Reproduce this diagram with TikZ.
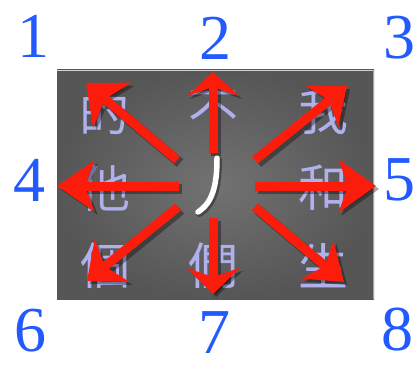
\documentclass[tikz,border=0pt]{standalone}
\usepackage{fontspec}
\setmainfont{Liberation Serif}
\newfontfamily\cjk{Noto Sans CJK TC}
\usetikzlibrary{arrows.meta}
\definecolor{numblue}{RGB}{35,90,255}
\definecolor{lav}{RGB}{176,176,236}
\definecolor{arrred}{RGB}{252,28,12}
\definecolor{bginner}{RGB}{114,114,114}
\definecolor{bgouter}{RGB}{86,86,86}
\begin{document}
\begin{tikzpicture}[x=1pt,y=-1pt,
  num/.style={text=numblue,font=\fontsize{64}{64}\selectfont,inner sep=0pt},
  hanzi/.style={text=lav,font=\cjk\fontsize{50}{50}\selectfont,inner sep=0pt},
  redarrow/.style 2 args={draw=arrred,line width=9pt,
    -{Stealth[length=#1,width=#2,inset=9pt]},
    preaction={draw=black,opacity=0.35,line width=10pt,
      -{Stealth[length=#1,width=#2,inset=9pt]},
      transform canvas={shift={(3pt,-3pt)}}}},
]
\useasboundingbox (0,0) rectangle (414,366);
% panel
\shade[inner color=bginner,outer color=bgouter] (57,70) rectangle (374,299);
\draw[gray!35,line width=1pt] (57,70.5) -- (374,70.5);
\draw[gray!70,line width=0.8pt] (373.6,70) -- (373.6,299);
% characters
\node[hanzi] (c1) at (104,112) {的};
\node[hanzi] (c2) at (213,112) {不};
\node[hanzi] (c3) at (323,112) {我};
\node[hanzi] (c4) at (105,188) {他};
\node[hanzi] (c5) at (323,188) {和};
\node[hanzi] (c6) at (105,266) {個};
\node[hanzi] (c7) at (213,266) {們};
\node[hanzi] (c8) at (323,266) {生};
% central stroke
\coordinate (pt) at (217,158);
\coordinate (pb) at (198,212);
\draw[black,line width=7pt,line cap=round,opacity=0.35]
  ([shift={(1.5,1.5)}]pt) .. controls (218.5,188.5) and (213.5,204.5) .. ([shift={(1.5,1.5)}]pb);
\draw[white,line width=5.5pt,line cap=round]
  (pt) .. controls (217,187) and (212,203) .. (pb);
% arrow coordinates
\coordinate (s1) at (177,160); \coordinate (e1) at (86,83);
\coordinate (s2) at (213,153); \coordinate (e2) at (213,72);
\coordinate (s3) at (255,160); \coordinate (e3) at (347,86);
\coordinate (s4) at (179,186); \coordinate (e4) at (57,186);
\coordinate (s5) at (255,186); \coordinate (e5) at (376,186);
\coordinate (s6) at (178,207); \coordinate (e6) at (87,281);
\coordinate (s7) at (213,218); \coordinate (e7) at (213,294);
\coordinate (s8) at (255,207); \coordinate (e8) at (344,282);
\draw[redarrow={34pt}{58pt}] (s1) -- (e1);
\draw[redarrow={24pt}{52pt}] (s2) -- (e2);
\draw[redarrow={32pt}{52pt}] (s3) -- (e3);
\draw[redarrow={37pt}{50pt}] (s4) -- (e4);
\draw[redarrow={37pt}{52pt}] (s5) -- (e5);
\draw[redarrow={32pt}{54pt}] (s6) -- (e6);
\draw[redarrow={26pt}{53pt}] (s7) -- (e7);
\draw[redarrow={34pt}{48pt}] (s8) -- (e8);
% numbers
\node[num] (n1) at (33,36) {1};
\node[num] (n2) at (215,38) {2};
\node[num] (n3) at (399,38) {3};
\node[num] (n4) at (29,180) {4};
\node[num] (n5) at (399,180) {5};
\node[num] (n6) at (30,331) {6};
\node[num] (n7) at (214,333) {7};
\node[num] (n8) at (397,330) {8};
\end{tikzpicture}
\end{document}
